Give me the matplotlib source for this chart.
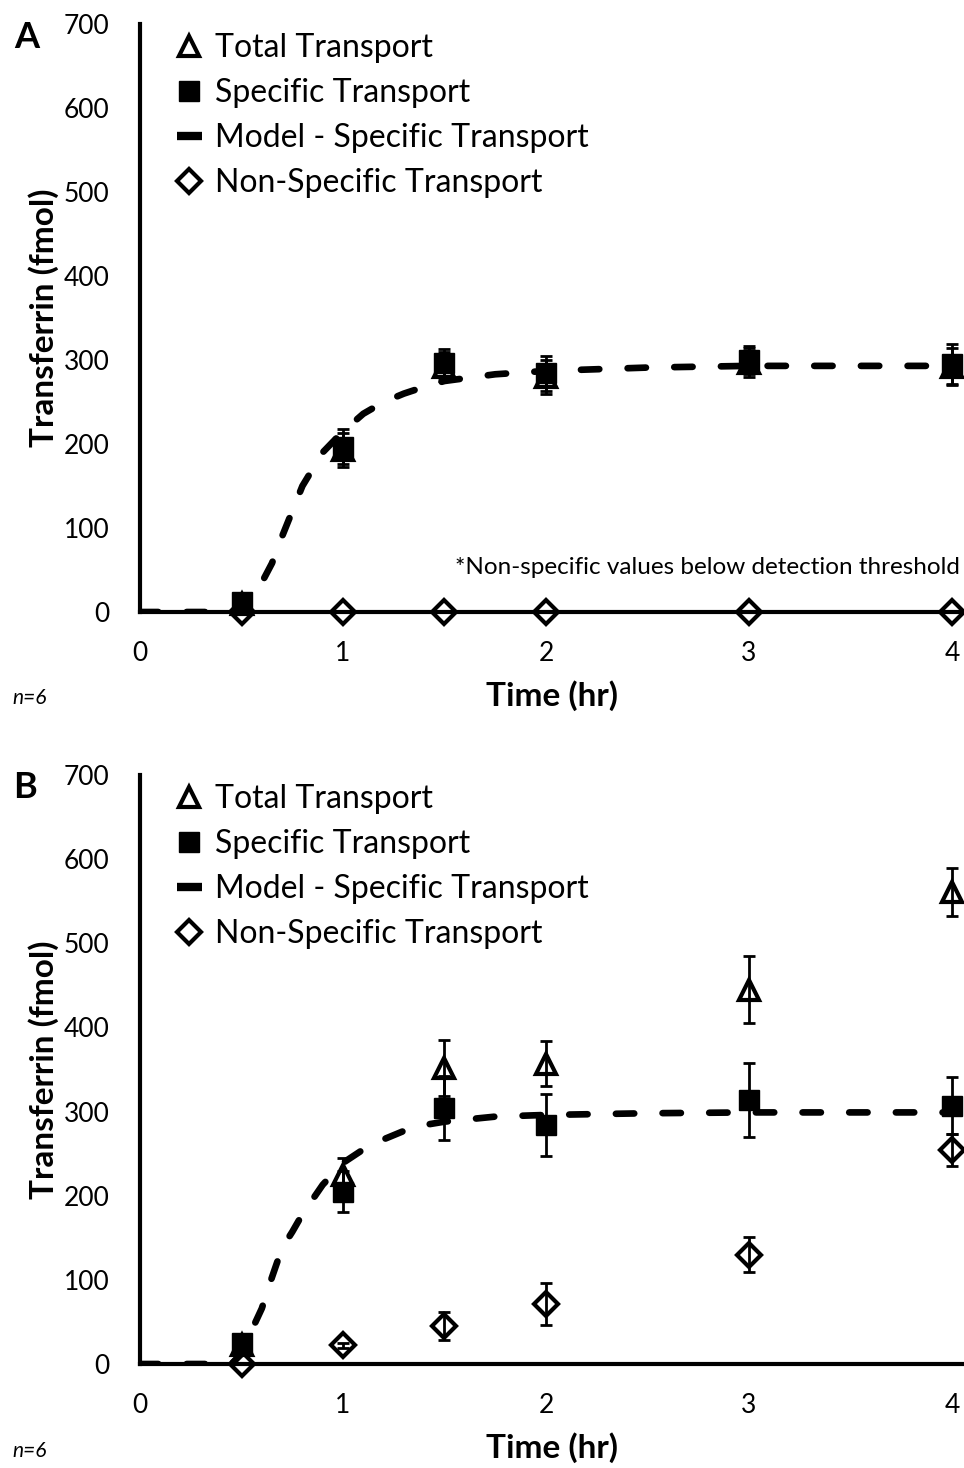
import numpy as np
import matplotlib.pyplot as plt
from matplotlib.lines import Line2D

plt.rcParams['font.family'] = ['Lato', 'DejaVu Sans']

# time points (hr)
t_pts = [0.5, 1, 1.5, 2, 3, 4]

# Panel A
totA = [10, 193, 292, 280, 297, 292]
totA_err = [10, 20, 17, 20, 17, 22]
specA = [12, 197, 296, 284, 300, 295]
specA_err = [10, 21, 17, 21, 17, 24]
nonA = [0, 0, 0, 0, 0, 0]
nonA_err = [0, 0, 0, 0, 0, 0]

# Panel B
totB = [22, 225, 352, 357, 445, 561]
totB_err = [8, 20, 33, 27, 40, 29]
specB = [25, 205, 304, 284, 314, 307]
specB_err = [8, 24, 38, 37, 44, 34]
nonB = [0, 22, 45, 71, 130, 254]
nonB_err = [0, 3, 17, 25, 21, 19]

# model curves
t_mod = [0, 0.25, 0.45, 0.5, 0.55, 0.6, 0.65, 0.7, 0.75, 0.8, 0.9, 1.0, 1.1,
         1.2, 1.3, 1.4, 1.5, 1.75, 2, 2.5, 3, 3.5, 4]
modA = [0, 0, 0, 5, 18, 35, 58, 90, 120, 150, 190, 215, 236, 250, 260, 268,
        275, 283, 287, 291, 293, 293, 293]
modB = [0, 0, 0, 12, 40, 66, 103, 138, 157, 178, 213, 239, 255, 267, 277, 284,
        288, 294, 296, 298, 299, 299, 299]

labels = ['Total Transport', 'Specific Transport', 'Model - Specific Transport',
          'Non-Specific Transport']

fig = plt.figure(figsize=(9.64, 14.68), dpi=100)
W, H = 964, 1468
axA = fig.add_axes([140/W, 1-612/H, 824/W, 588/H])
axB = fig.add_axes([140/W, 1-1364/H, 824/W, 589/H])


def panel(ax, tot, tot_e, spec, spec_e, non, non_e, mod):
    ax.errorbar(t_pts, non, yerr=non_e, fmt='none', ecolor='k', elinewidth=2,
                capsize=4, capthick=2, clip_on=False, zorder=3)
    ax.plot(t_pts, non, 'D', ms=12, mfc='none', mec='k', mew=3, clip_on=False, zorder=4)
    ax.errorbar(t_pts, tot, yerr=tot_e, fmt='none', ecolor='k', elinewidth=2,
                capsize=4, capthick=2, clip_on=False, zorder=3)
    ax.plot(t_pts, tot, '^', ms=15, mfc='none', mec='k', mew=3, clip_on=False, zorder=4)
    ax.errorbar(t_pts, spec, yerr=spec_e, fmt='none', ecolor='k', elinewidth=2,
                capsize=4, capthick=2, clip_on=False, zorder=3)
    ax.plot(t_pts, spec, 's', ms=14, mfc='k', mec='k', clip_on=False, zorder=5)
    ax.plot(t_mod, mod, color='k', lw=4.8, ls=(0, (2.75, 4.25)),
            dash_capstyle='round', zorder=6)

    ax.set_xlim(0, 824/203)
    ax.set_ylim(0, 700)
    ax.set_xticks([0, 1, 2, 3, 4])
    ax.set_yticks(range(0, 701, 100))
    ax.tick_params(length=0, labelsize=19)
    ax.tick_params(axis='x', pad=21)
    ax.tick_params(axis='y', pad=22)
    for s in ['top', 'right']:
        ax.spines[s].set_visible(False)
    for s in ['left', 'bottom']:
        ax.spines[s].set_linewidth(3)
    ax.set_xlabel('Time (hr)', fontsize=24, fontweight='bold', labelpad=10)
    ax.set_ylabel('Transferrin (fmol)', fontsize=24, fontweight='bold', labelpad=3)

    handles = [
        Line2D([], [], marker='^', ms=15, mfc='none', mec='k', mew=3, ls='none'),
        Line2D([], [], marker='s', ms=15, mfc='k', mec='k', ls='none'),
        Line2D([], [], marker='_', ms=18, mec='k', mew=6, ls='none'),
        Line2D([], [], marker='D', ms=12, mfc='none', mec='k', mew=3, ls='none'),
    ]
    ax.legend(handles, labels, loc='upper left', bbox_to_anchor=(0.027, 1.006),
              frameon=False, fontsize=23, handlelength=0.9, handletextpad=0.35,
              labelspacing=0.47, borderaxespad=0)


panel(axA, totA, totA_err, specA, specA_err, nonA, nonA_err, modA)
panel(axB, totB, totB_err, specB, specB_err, nonB, nonB_err, modB)

fig.text(27/W, 1-38/H, 'A', fontsize=26, fontweight='bold', ha='center', va='center')
fig.text(25/W, 1-787/H, 'B', fontsize=26, fontweight='bold', ha='center', va='center')
fig.text(12/W, 1-698/H, 'n=6', fontsize=15, style='italic', ha='left', va='center')
fig.text(12/W, 1-1451/H, 'n=6', fontsize=15, style='italic', ha='left', va='center')
fig.text(960/W, 1-567/H, '*Non-specific values below detection threshold',
         fontsize=17.5, ha='right', va='center')

fig.savefig('out.png', dpi=100)
